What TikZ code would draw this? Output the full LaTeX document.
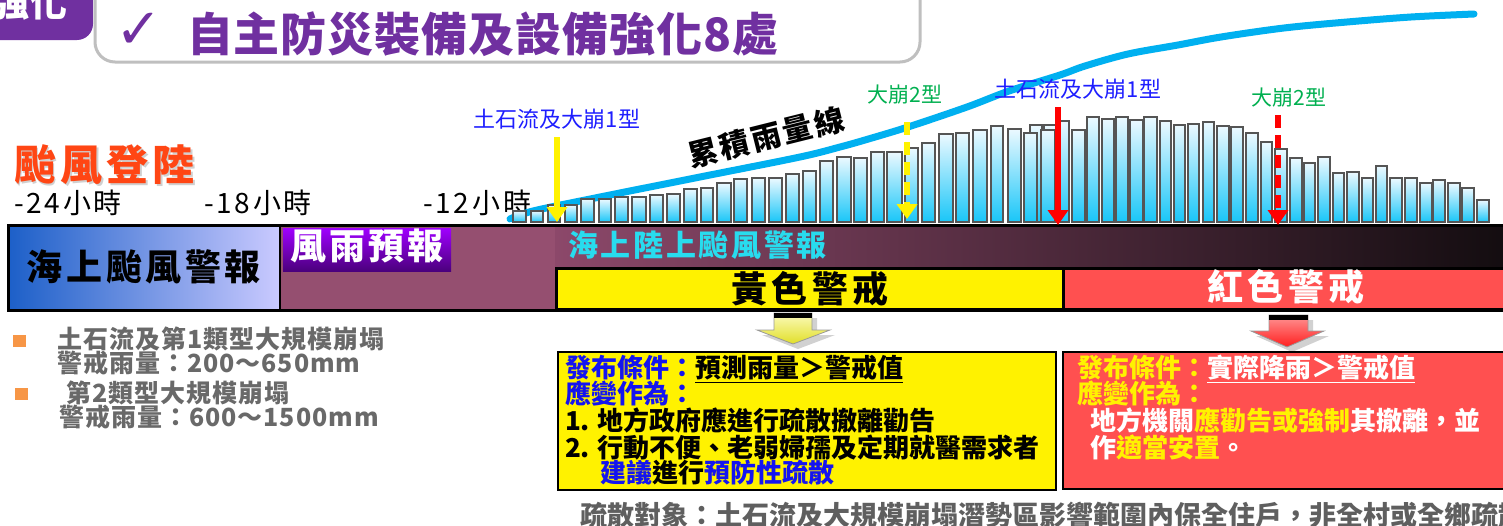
\documentclass[tikz,border=0pt]{standalone}
\usepackage{fontspec}
\setmainfont{Noto Sans CJK TC}
\newfontfamily\dejavu{DejaVu Sans}
\usetikzlibrary{arrows.meta}
\newcommand\fsz[1]{\fontsize{#1}{#1}\selectfont}
\newcommand\lsp[1]{\addfontfeature{LetterSpace=#1}}
\definecolor{tpurple}{RGB}{112,48,160}
\definecolor{tabgray}{RGB}{191,191,191}
\definecolor{landred}{RGB}{255,70,20}
\definecolor{lblue}{RGB}{30,30,255}
\definecolor{lgreen}{RGB}{0,176,80}
\definecolor{curveblue}{RGB}{0,176,240}
\definecolor{barline}{RGB}{85,85,85}
\definecolor{bartop}{RGB}{236,249,255}
\definecolor{barbot}{RGB}{25,198,248}
\definecolor{mauve}{RGB}{149,79,112}
\definecolor{mauvetwo}{RGB}{140,72,106}
\definecolor{bandblack}{RGB}{18,12,15}
\definecolor{seablue}{RGB}{28,95,200}
\definecolor{sealav}{RGB}{202,202,255}
\definecolor{violettop}{RGB}{160,0,255}
\definecolor{violetbot}{RGB}{75,0,125}
\definecolor{cyantext}{RGB}{40,220,238}
\definecolor{warnred}{RGB}{255,80,80}
\definecolor{tblue}{RGB}{20,20,240}
\definecolor{graytext}{RGB}{95,95,95}
\definecolor{listgray}{RGB}{105,105,105}
\definecolor{orangesq}{RGB}{247,150,70}
\definecolor{ylight}{RGB}{252,252,190}
\definecolor{ydark}{RGB}{225,222,40}
\definecolor{rlight}{RGB}{255,150,150}
\definecolor{rdark}{RGB}{255,30,30}
\tikzset{
  txt/.style={inner sep=0pt, outer sep=0pt},
  bar/.style={top color=bartop, bottom color=barbot, draw=barline, line width=1.3pt},
  thinarrow/.style={line width=6pt, -{Triangle[width=20pt,length=15pt]}},
  dasharrow/.style={thinarrow, dash pattern=on 13pt off 7pt},
  warnbox/.style={draw=black, line width=3pt, anchor=north west, inner sep=0pt},
  descbox/.style={draw=black, line width=2pt, anchor=north west, inner sep=0pt},
  shadowpoly/.style={fill=black!18},
}
\begin{document}
\begin{tikzpicture}[x=1pt, y=-1pt]
\useasboundingbox (0,0) rectangle (1503,525);
\clip (0,0) rectangle (1503,525);
\fill[white] (0,0) rectangle (1503,525);

% tab and title
\fill[tpurple, rounded corners=16pt] (-30,-30) -- (93,-30) -- (93,40) -- (-30,40) -- cycle;
\node[txt, anchor=east] (tab) at (67,2) {\fsz{38}\bfseries\color{white}強化};
\draw[draw=tabgray, fill=white, line width=3pt, rounded corners=20pt] (95,-40) rectangle (920,62);
\node[txt] (chk) at (139,31) {\dejavu\bfseries\fsz{56}\color{tpurple}✓};
\node[txt, anchor=west] (title) at (187,34) {\fsz{46}\bfseries\lsp{2}\color{tpurple}自主防災裝備及設備強化8處};

% landfall
\node[txt, anchor=west, opacity=0.3] (landsh) at (16,167) {\fsz{42}\bfseries\lsp{10}\color{black!60}颱風登陸};
\node[txt, anchor=west] (land) at (14,165) {\fsz{42}\bfseries\lsp{10}\color{landred}颱風登陸};

% time labels
\node[txt, anchor=west] (t24) at (14,203) {\fsz{28}\lsp{10}-24小時};
\node[txt, anchor=west] (t18) at (204,203) {\fsz{28}\lsp{10}-18小時};
\node[txt, anchor=west] (t12) at (423,203) {\fsz{28}\lsp{10}-12小時};

% cumulative curve
\draw[curveblue, line width=7pt, line cap=round] plot[smooth, tension=0.55] coordinates {
 (510,219) (533,211) (600,197) (700,177) (800,157) (840,147) (865,140) (908,127)
 (967,107) (1009,91) (1060,75) (1085,66) (1128,54) (1178,45) (1221,37) (1284,28)
 (1347,22) (1411,17) (1474,14)};

% bars behind
\shadedraw[bar] (1030,222) rectangle (1042,125);
\shadedraw[bar] (1044,222) rectangle (1056,125);
% bars
\foreach \a/\b/\t in {
 513/526/211, 531/543/211, 548/560/205, 565/577/205, 581/594/199, 599/611/199,
 615/628/197, 632/646/197, 650/663/195, 667/680/194, 684/697/189, 701/713/188,
 717/731/183, 734/747/179, 752/765/178, 769/782/178, 786/799/174, 803/816/171,
 820/833/161, 837/851/157, 854/867/158, 871/884/152, 887/902/152, 905/918/148,
 922/935/143, 939/953/134, 956/969/133, 973/987/130, 991/1003/126, 1008/1021/129,
 1024/1037/133, 1041/1055/130, 1058/1069/121, 1072/1085/130, 1087/1099/117, 1102/1114/119,
 1116/1128/117, 1130/1143/120, 1144/1157/117, 1160/1171/121, 1174/1185/125, 1188/1199/124,
 1203/1214/122, 1217/1229/126, 1231/1243/127, 1246/1258/133, 1261/1272/142, 1275/1287/149,
 1290/1302/158, 1304/1315/163, 1318/1330/157, 1333/1344/173, 1347/1359/172, 1362/1373/178,
 1376/1387/166, 1390/1402/178, 1405/1417/178, 1420/1432/183, 1433/1445/180, 1448/1460/183,
 1462/1474/188, 1477/1489/200}
 { \shadedraw[bar] (\a,222) rectangle (\b,\t); }

\node[txt, rotate=14] (cum) at (766,137) {\fsz{30}\bfseries\lsp{8}累積雨量線};

% band
\fill[mauve] (280,225) rectangle (556,311);
\shade[left color=mauvetwo, right color=bandblack] (555,225) rectangle (1515,311);
\shade[left color=seablue, right color=sealav] (8,225) rectangle (280,310);
\draw[line width=3pt] (8,225) rectangle (1515,310);
\draw[line width=2.5pt] (280,225) -- (280,310);
\node[txt] (seawarn) at (144,267) {\fsz{36}\bfseries\lsp{10}海上颱風警報};
\shade[top color=violettop, bottom color=violetbot] (283,228) rectangle (451,271);
\node[txt] (rainfc) at (367,246) {\fsz{36}\bfseries\lsp{9}\color{white}風雨預報};
\node[txt, anchor=west] (landwarn) at (568,245) {\fsz{30}\bfseries\lsp{9}\color{cyantext}海上陸上颱風警報};
\node[warnbox, fill=yellow, minimum width=507pt, minimum height=41pt] (ybox) at (555,267) {};
\node[txt] (ytext) at (ybox.center) {\fsz{36}\bfseries\lsp{12}黃色警戒};
\node[warnbox, fill=warnred, minimum width=453pt, minimum height=41pt] (rbox) at (1062,267) {};
\node[txt] (rtext) at (1286,287) {\fsz{36}\bfseries\lsp{12}\color{white}紅色警戒};

% thin arrows
\coordinate (y1s) at (557,137); \coordinate (y1e) at (557,222);
\coordinate (y2s) at (907,122); \coordinate (y2e) at (907,219);
\coordinate (r1s) at (1058,107); \coordinate (r1e) at (1058,225);
\coordinate (r2s) at (1278,115); \coordinate (r2e) at (1278,225);
\draw[thinarrow, yellow] (y1s) -- (y1e);
\draw[dasharrow, yellow] (y2s) -- (y2e);
\draw[thinarrow, red] (r1s) -- (r1e);
\draw[dasharrow, red] (r2s) -- (r2e);

% arrow labels
\node[txt] (lab1) at (557,119) {\fsz{22}\color{lblue}土石流及大崩1型};
\node[txt] (lab2) at (905,95) {\fsz{21}\color{lgreen}大崩2型};
\node[txt] (lab3) at (1078,89) {\fsz{22}\color{lblue}土石流及大崩1型};
\node[txt] (lab4) at (1289,98) {\fsz{21}\color{lgreen}大崩2型};

% block arrows
\fill[shadowpoly] (779,318) -- (817,318) -- (817,335) -- (835,335) -- (798,349) -- (762,335) -- (779,335) -- cycle;
\shade[top color=ylight, bottom color=ydark, draw=black!40, line width=0.8pt]
  (774,313) -- (812,313) -- (812,330) -- (830,330) -- (793,344) -- (757,330) -- (774,330) -- cycle;
\fill[black] (774,313) rectangle (812,318);
\fill[shadowpoly] (1274,320) -- (1313,320) -- (1313,336) -- (1329,336) -- (1292,352) -- (1256,336) -- (1274,336) -- cycle;
\shade[top color=rlight, bottom color=rdark, draw=black!40, line width=0.8pt]
  (1269,315) -- (1308,315) -- (1308,331) -- (1324,331) -- (1287,347) -- (1251,331) -- (1269,331) -- cycle;
\fill[black] (1269,315) rectangle (1308,320);

% description boxes
\node[descbox, fill=yellow, minimum width=498pt, minimum height=138pt] (ydesc) at (557,351) {};
\node[descbox, fill=warnred, minimum width=460pt, minimum height=137pt] (rdesc) at (1062,351) {};

\node[txt, anchor=base west] (yc1) at (565,377) {\fsz{26}\bfseries\color{tblue}發布條件：};
\node[txt, anchor=base west] (yc2) at (yc1.base east) {\fsz{26}\bfseries 預測雨量＞警戒值};
\draw[line width=1.3pt] ([yshift=-3pt]yc2.south west) -- ([yshift=-3pt]yc2.south east);
\node[txt, anchor=base west] (yc3) at (565,403) {\fsz{26}\bfseries\color{tblue}應變作為：};
\node[txt, anchor=base west] (yc4) at (565,430) {\fsz{26}\bfseries 1. 地方政府應進行疏散撤離勸告};
\node[txt, anchor=base west] (yc5) at (565,457) {\fsz{26}\bfseries 2. 行動不便、老弱婦孺及定期就醫需求者};
\node[txt, anchor=base west] (yc6) at (600,482) {\fsz{26}\bfseries\textcolor{tblue}{建議}進行\textcolor{tblue}{預防性疏散}};

\node[txt, anchor=base west] (rc1) at (1077,377) {\fsz{26}\bfseries\color{yellow}發布條件：};
\node[txt, anchor=base west] (rc2) at (rc1.base east) {\fsz{26}\bfseries\color{white}實際降雨＞警戒值};
\draw[white, line width=1.3pt] ([yshift=-3pt]rc2.south west) -- ([yshift=-3pt]rc2.south east);
\node[txt, anchor=base west] (rc3) at (1077,403) {\fsz{26}\bfseries\color{yellow}應變作為：};
\node[txt, anchor=base west] (rc4) at (1090,430) {\fsz{26}\bfseries\color{white}地方機關\textcolor{yellow}{應勸告或強制}其撤離，並};
\node[txt, anchor=base west] (rc5) at (1090,457) {\fsz{26}\bfseries\color{white}作\textcolor{yellow}{適當安置}。};

\node[txt, anchor=west] (target) at (580,515) {\fsz{27}\bfseries\color{graytext}疏散對象：土石流及大規模崩塌潛勢區影響範圍內保全住戶，非全村或全鄉疏散};

% left list
\fill[orangesq] (13,335) rectangle (26,347);
\fill[orangesq] (15,388) rectangle (28,400);
\node[txt, anchor=west] (li1) at (57,339) {\fsz{25}\bfseries\lsp{4}\color{listgray}土石流及第1類型大規模崩塌};
\node[txt, anchor=west] (li2) at (57,363) {\fsz{25}\bfseries\lsp{4}\color{listgray}警戒雨量：200～650mm};
\node[txt, anchor=west] (li3) at (66,393) {\fsz{25}\bfseries\lsp{4}\color{listgray}第2類型大規模崩塌};
\node[txt, anchor=west] (li4) at (59,417) {\fsz{25}\bfseries\lsp{4}\color{listgray}警戒雨量：600～1500mm};
\end{tikzpicture}
\end{document}
